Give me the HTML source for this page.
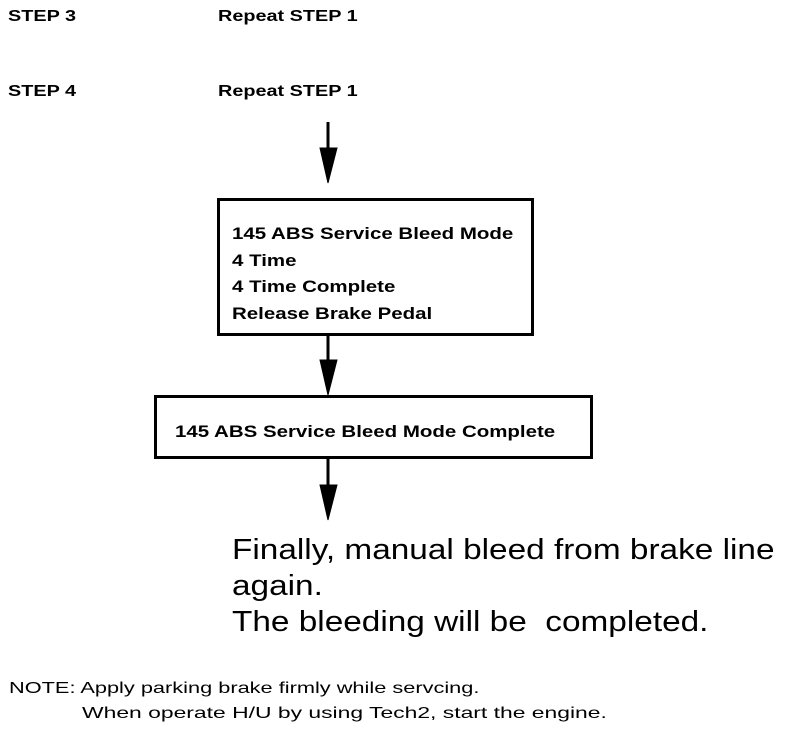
<!DOCTYPE html>
<html><head><style>
body{margin:0;width:800px;height:732px;background:#fff;position:relative;font-family:"Liberation Sans",sans-serif;color:#000;overflow:hidden}
.t{position:absolute;white-space:nowrap;line-height:1;transform-origin:0 0}
.s{font-weight:bold;transform:scaleX(1.24)}
.box{position:absolute;border:3px solid #000;box-sizing:border-box}
</style></head><body>
<div class="t s" style="left:8px;top:9px;font-size:16px">STEP 3</div>
<div class="t s" style="left:218px;top:9px;font-size:16px">Repeat STEP 1</div>
<div class="t s" style="left:8px;top:84px;font-size:16px">STEP 4</div>
<div class="t s" style="left:218px;top:84px;font-size:16px">Repeat STEP 1</div>

<div class="box" style="left:217px;top:198px;width:317px;height:138px"></div>
<div class="t s" style="left:232px;top:221px;font-size:16.5px;line-height:26.5px">145 ABS Service Bleed Mode<br>4 Time<br>4 Time Complete<br>Release Brake Pedal</div>

<div class="box" style="left:154px;top:395px;width:439px;height:64px"></div>
<div class="t s" style="left:175px;top:424px;font-size:16.5px">145 ABS Service Bleed Mode Complete</div>

<svg width="800" height="732" style="position:absolute;left:0;top:0">
<g fill="#000" stroke="#000" stroke-width="3">
<line x1="328" y1="122" x2="328" y2="150"/>
<polygon points="320,148 337,148 328,183" stroke-width="1"/>
<line x1="328" y1="335" x2="328" y2="362"/>
<polygon points="320,360 337,360 328,395" stroke-width="1"/>
<line x1="328" y1="458" x2="328" y2="487"/>
<polygon points="320,485 337,485 328,520" stroke-width="1"/>
</g></svg>

<div class="t" style="left:232px;top:532px;font-size:29px;line-height:36px;transform:scaleX(1.15)">Finally, manual bleed from brake line<br>again.<br>The bleeding will be &nbsp;completed.</div>

<div class="t" style="left:9px;top:681px;font-size:16px;transform:scaleX(1.36)">NOTE: Apply parking brake firmly while servcing.</div>
<div class="t" style="left:82px;top:706px;font-size:16px;transform:scaleX(1.43)">When operate H/U by using Tech2, start the engine.</div>
</body></html>
